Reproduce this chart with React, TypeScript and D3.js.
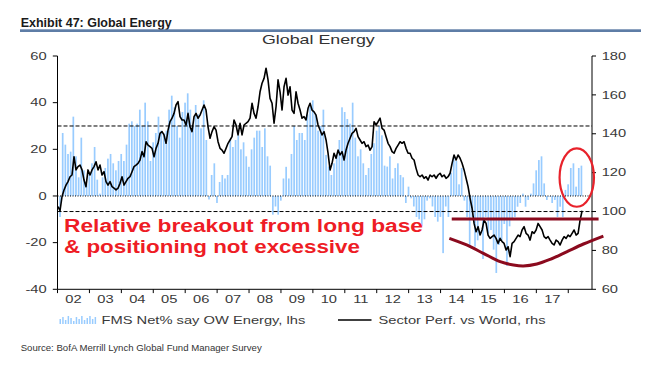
import React from 'react';
import * as d3 from 'd3';

// ---------- data ----------
const yearLabels = ['02', '03', '04', '05', '06', '07', '08', '09', '10', '11', '12', '13', '14', '15', '16', '17'];
const lhsTicks = [60, 40, 20, 0, -20, -40];
const rhsTicks = [180, 160, 140, 120, 100, 80, 60];

// FMS Net% say OW Energy (lhs), monthly from Jan 2002
const fmsNetOW = [
  -9, 27, 22, 18, 19, 34, 17, 8, 25, 11,
  5, 10, 14, 21, 7, 1, 8, 12, 16, 18,
  14, 11, 15, 18, 15, 22, 31, 32, 30, 31,
  37, 30, 40, 32, 15, 23, 27, 34, 28, 27,
  28, 37, 43, 38, 30, 25, 36, 40, 44,
  37, 30, 39, 35, 29, 41, 24, -1.5, 9, 14,
  -3, 6, 9, 7.5, 9, 24, 21, 24, 26, 20,
  23, 17, 12.5, 20, 25, 28, 28, 21, 29, 17,
  13, -8, -4.5, -8, -2, 7.5, 12.5, 7.5, 18, 30,
  24, 27, 27, 24, 35, 38, 41, 35, 28, 30,
  37, 17.6, 12.6, 9, 14, 17.6, 24, 38, 36, 33,
  31, 40, 25, 17, 20, 14, 9, 12, 18, 22.6,
  28, 30, 26, 13, 12.6, 17, 7.5, 12, 14, 9,
  8, -3, 4, -1, -4.5, -9, -10, -13, -10, -2,
  -1, -4.5, -9, -11, -9, -24.5, -4.5, -9,
  10, 17, 15, 5, 12, -2, -9,
  -21.7, -9, -21.7, -19, -10, -27, -9, -16, -14.6, -23,
  -33, -21, -19, -12, -30, -13, -10, -9, -4.6, -3,
  1, -4.6, -1.7, 1, 5.4, 11, 15.4, 17, 5.4, -1.7,
  -0.3, -3, -1.7, -9, -4.6, -9, 2.6, 5, 12, 14,
  4, 12, 13,
];

// Sector Perf. vs World (rhs)
const sectorRel = [
  102.5, 100.4, 107.6, 111.1, 113.6, 115.4, 117.9, 118.8, 128.2, 121.4,
  123.1, 123.9, 121.4, 116.2, 112.8, 121.4, 118.8, 121.4, 123.1, 125.6,
  121.4, 123.9, 118.8, 120.5, 115.4, 113.6, 115.4, 112.8, 112, 111.1,
  112, 114.5, 117.9, 113.6, 115.4, 117.1, 117.9, 120.5, 123.1, 123.9,
  124.8, 126.5, 130.8, 128.2, 135.9, 134.2, 133.4, 132.5, 128.2, 132.5,
  135.1, 140.2, 141.1, 139.4, 135.1, 141.9, 146.2, 148, 150.5, 154.8,
  156.5, 148.8, 147.1, 147.1, 144.5, 150.5,
  143.6, 141.1, 148.8, 150.5, 148, 149.6, 152.2, 154.8, 152.2, 143.6,
  137.7, 141.1, 143.6, 141.9, 135.9, 132.5, 131.6, 130, 132.5, 135.1,
  136.8, 138.5, 147.1, 144.5, 139.4, 145.4, 139.4, 144.5, 145.4, 146.2,
  148, 155.7, 150.5, 148, 153.9, 161.6, 166, 168.5, 173.7, 167.7,
  158.2, 155.7, 145.4, 153.9, 167.7, 161.6, 152.2, 164.2, 168.5, 159.9,
  164.2, 152.2, 150.5, 161.6, 155.7, 152.2, 148, 148.8, 147.1, 153.1,
  155.7, 152.2, 151.3, 149.6, 144.5, 141.9, 139.4,
  141.1, 136.8, 130, 121.4, 124.8, 130, 127.4, 131.6, 129.1, 130.8,
  126.5, 131.6, 135.1, 137.7, 140.2, 141.1, 142.8, 138.5, 136.8, 135.1,
  135.9, 133.4, 134.2, 131.6, 133.4, 146.2, 144.5, 146.2, 148, 142.8,
  141.9, 138.5, 135.1, 133.4, 130.8, 130, 132.5, 134.2, 135.9, 135.1,
  135.9, 132.5, 130, 130, 127.4, 126.5, 122.2, 118.8, 117.9, 118.8,
  117.1, 117.9, 116.2, 118.8, 117.9, 118.8, 117.1, 118.8, 119.7, 117.9,
  118.8, 117.1, 117.9, 119.7, 124.8, 129.1, 126.5,
  129.1, 127.4, 124.8, 121.4, 117.1, 112.8, 106.8, 101.7, 93.9, 89.6,
  92.2, 87.9, 90.5, 95.6, 93.9, 87.9, 86.2, 87.1, 87.9, 86.2,
  83.6, 86.2, 84.5, 83.6, 80.2, 81.9, 76.8, 83.6, 84.5, 86.2,
  87.9, 87.1, 90.5, 92.2, 88.8, 87.9, 85.3, 89.6, 88.8, 90.5,
  93.9, 92.2, 90.5, 87.1, 86.2, 87.1, 85.3, 83.6, 82.8, 85.3,
  84.5, 82.8, 85.3, 87.1, 86.2, 87.9, 87.1, 88.8, 90.5, 87.9,
  88.8, 95.6, 100.4,
];

// annotations in data units: [month since Jan 2002, rhs value]
const baseLine = [[148.2, 96.2], [203.4, 96.2]];
const uCurve = [
  [147.3, 86.2], [153.8, 82.8], [160.1, 78.5], [166.4, 74.2], [171.4, 72.5], [175.1, 72.0],
  [180.2, 73.0], [185.2, 75.4], [191.4, 79.3], [197.7, 83.3], [205.2, 87.4],
];
const circleCenter = [195.2, 7.9]; // [month, lhs]
const lhsRefLine = 30;
const rhsRefLine = 100;
const legendGlyph = [5, 7, 4, 8, 6, 3, 7, 5, 8, 4, 6, 8, 5, 7];

const FONT = 'Liberation Sans, Arial, Helvetica, sans-serif';

function SText(props: any) {
  const { x, y, sx = 1.4, size = 10.5, anchor = 'start', fill = '#3a3a3a', weight = 'normal', children } = props;
  return (
    <text
      transform={`translate(${x},${y}) scale(${sx},1)`}
      textAnchor={anchor}
      fontSize={size}
      fontFamily={FONT}
      fontWeight={weight}
      fill={fill}
    >
      {children}
    </text>
  );
}

export default function App() {
  const left = 57.5, right = 592, top = 56, bottom = 289.3;
  const x = d3.scaleLinear().domain([0, 201]).range([left, 592.2]);
  const yL = d3.scaleLinear().domain([-40, 60]).range([bottom, top]);
  const yR = d3.scaleLinear().domain([60, 180]).range([bottom, top]);
  const barMonth = (i: number) => i + 0.95;
  const lineMonth = d3.scaleLinear().domain([0, sectorRel.length - 1]).range([0.19, 197.2]);

  const linePath = d3.line<number>()
    .x((_, j) => x(lineMonth(j)))
    .y((d) => yR(d))(sectorRel) as string;

  const annLine = d3.line<number[]>().x((d) => x(d[0])).y((d) => yR(d[1]));
  const uPath = annLine.curve(d3.curveCatmullRom)(uCurve as any) as string;
  const basePath = d3.line<number[]>().x((d) => x(d[0])).y((d) => yR(d[1]))(baseLine as any) as string;

  const yearTicks = d3.range(0, yearLabels.length + 1).map((k) => k * 12);

  return (
    <svg width={646} height={367} style={{ position: 'absolute', left: 0, top: 0, background: '#fff' }}>
      <rect x={0} y={0} width={646} height={367} fill="#fff" />
      {/* exhibit header */}
      <text x={20.7} y={26.7} fontSize={13} fontWeight="bold" fontFamily={FONT} fill="#1a1a1a"
        textLength={151} lengthAdjust="spacingAndGlyphs">Exhibit 47: Global Energy</text>
      <rect x={20} y={29.3} width={621} height={2.7} fill="#5E7DA6" />

      {/* chart title */}
      <SText x={262} y={44.3} size={13} sx={1.37} fill="#333">Global Energy</SText>

      {/* bars */}
      {fmsNetOW.map((v, i) => (
        <rect key={i}
          x={x(barMonth(i)) - 0.85}
          y={Math.min(yL(v), yL(0))}
          width={1.7}
          height={Math.abs(yL(v) - yL(0))}
          fill="#99CCFF" />
      ))}

      {/* reference lines */}
      <line x1={left} x2={right} y1={yL(lhsRefLine)} y2={yL(lhsRefLine)} stroke="#000" strokeWidth={1} strokeDasharray="4,2" />
      <line x1={left} x2={right} y1={yR(rhsRefLine)} y2={yR(rhsRefLine)} stroke="#000" strokeWidth={1} strokeDasharray="4,2" />
      <line x1={left} x2={right} y1={yL(0)} y2={yL(0)} stroke="#000" strokeWidth={1} strokeDasharray="1,1.5" />

      {/* sector line */}
      <path d={linePath} fill="none" stroke="#000" strokeWidth={1.6} strokeLinejoin="round" />

      {/* axes */}
      <line x1={left} x2={left} y1={top} y2={bottom} stroke="#000" strokeWidth={1} />
      <line x1={right} x2={right} y1={top} y2={bottom} stroke="#000" strokeWidth={1} />
      <line x1={left} x2={right} y1={bottom} y2={bottom} stroke="#000" strokeWidth={1} />
      {lhsTicks.map((t) => (
        <g key={'l' + t}>
          <line x1={left - 4.7} x2={left} y1={yL(t)} y2={yL(t)} stroke="#000" strokeWidth={1} />
          <SText x={46.7} y={yL(t) + 3.7} anchor="end">{String(t)}</SText>
        </g>
      ))}
      {rhsTicks.map((t) => (
        <g key={'r' + t}>
          <line x1={right} x2={right + 4} y1={yR(t)} y2={yR(t)} stroke="#000" strokeWidth={1} />
          <SText x={601.7} y={yR(t) + 3.7} anchor="start">{String(t)}</SText>
        </g>
      ))}
      {yearTicks.map((m) => (
        <line key={'t' + m} x1={x(m)} x2={x(m)} y1={bottom} y2={bottom + 3.8} stroke="#000" strokeWidth={1} />
      ))}
      {yearLabels.map((lab, k) => (
        <SText key={lab} x={x(k * 12 + 6)} y={303} anchor="middle">{lab}</SText>
      ))}

      {/* legend */}
      {legendGlyph.map((h, i) => (
        <rect key={'g' + i} x={59.5 + i * 2.7} y={324 - h} width={1.5} height={h} fill="#99CCFF" />
      ))}
      <SText x={101.5} y={324.2}>FMS Net% say OW Energy, lhs</SText>
      <line x1={338} x2={371.5} y1={320} y2={320} stroke="#000" strokeWidth={1.3} />
      <SText x={378.5} y={324.2}>Sector Perf. vs World, rhs</SText>

      {/* annotations */}
      <path d={basePath} fill="none" stroke="#8B0A1E" strokeWidth={3} />
      <path d={uPath} fill="none" stroke="#8B0A1E" strokeWidth={3} />
      <ellipse cx={x(circleCenter[0])} cy={yL(circleCenter[1])} rx={17.2} ry={29.2}
        fill="none" stroke="#E8222B" strokeWidth={2.2} />
      <text x={64} y={232} fontSize={18.7} fontWeight="bold" fontFamily={FONT} fill="#EE1C25"
        textLength={359} lengthAdjust="spacingAndGlyphs">Relative breakout from long base</text>
      <text x={64} y={253.3} fontSize={18.7} fontWeight="bold" fontFamily={FONT} fill="#EE1C25"
        textLength={296} lengthAdjust="spacingAndGlyphs">&amp; positioning not excessive</text>

      {/* source */}
      <text x={20.7} y={350.5} fontSize={8.5} fontFamily={FONT} fill="#333"
        textLength={241} lengthAdjust="spacingAndGlyphs">Source:  BofA Merrill Lynch Global Fund Manager Survey</text>
    </svg>
  );
}
